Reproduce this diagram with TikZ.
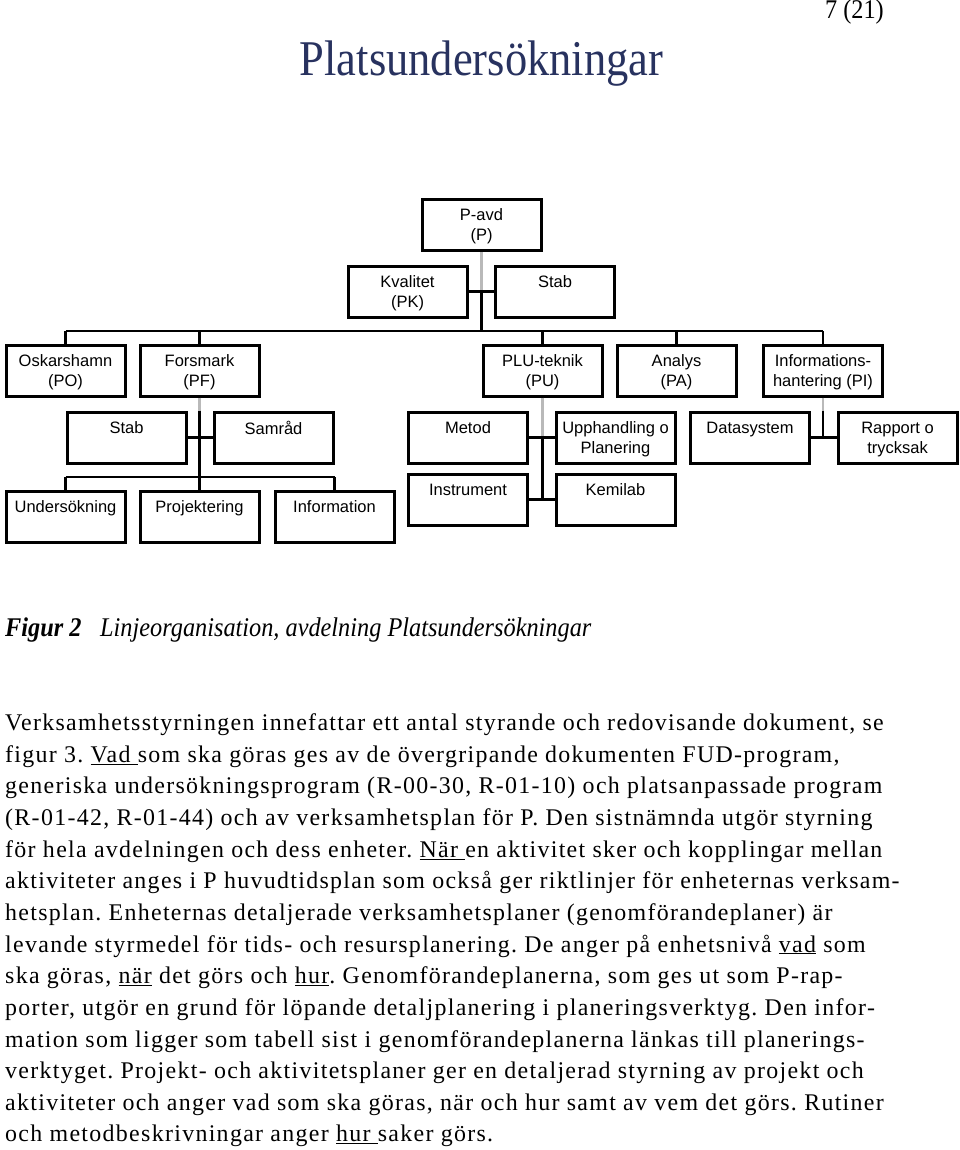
\documentclass[tikz,border=0pt]{standalone}
\usepackage{fontspec}
\setmainfont{Liberation Serif}
\newfontfamily\boxfont{Liberation Sans}
\newfontfamily\bodyfont[LetterSpace=5.5]{Liberation Serif}
\newfontfamily\titlefont[FakeStretch=0.89]{Liberation Serif}
\newfontfamily\capfont[FakeStretch=0.9]{Liberation Serif}
\definecolor{titleblue}{RGB}{40,50,95}
\newcommand\lstrut{\rule{0pt}{12pt}}
\frenchspacing
\begin{document}
\begin{tikzpicture}[x=1pt,y=-1pt,
  box/.style={draw, line width=3pt, minimum width=119pt, minimum height=51pt, inner sep=0pt},
  lbl/.style={anchor=north, inner sep=0pt, align=center, yshift=-10.5pt,
    font=\boxfont\fontsize{16.5}{20}\selectfont},
  conn/.style={line width=2.6pt},
  faint/.style={line width=2.2pt, draw=gray!55},
  bodyline/.style={anchor=base west, inner sep=0pt, font=\bodyfont\fontsize{23.9}{28}\selectfont},
]
\useasboundingbox (0,0) rectangle (960,1150);

% page number and title
\node[anchor=base east, inner sep=0pt, font=\capfont\fontsize{27}{30}\selectfont] (pnum) at (884,19) {7 (21)};
\node[anchor=base, inner sep=0pt, text=titleblue, font=\titlefont\fontsize{50}{56}\selectfont] (title) at (481.5,76) {Platsundersökningar};

% org chart boxes
\node[box] (pavd) at (481.5,225) {};
\node[box] (kval) at (407.5,291.5) {};
\node[box] (stab0) at (555,291.5) {};
\node[box] (posk) at (65.5,370.5) {};
\node[box] (pf) at (199.5,370.5) {};
\node[box] (pu) at (542.5,370.5) {};
\node[box] (pa) at (676.5,370.5) {};
\node[box] (pi) at (823,370.5) {};
\node[box] (fstab) at (126.5,437.5) {};
\node[box] (samrad) at (273.5,437.5) {};
\node[box] (metod) at (468,437.5) {};
\node[box] (upph) at (615.5,437.5) {};
\node[box] (datas) at (750,437.5) {};
\node[box] (rapp) at (897.5,437.5) {};
\node[box] (und) at (65.5,517) {};
\node[box] (proj) at (199.5,517) {};
\node[box] (info) at (334.5,517) {};
\node[box] (instr) at (468,499.5) {};
\node[box] (kemi) at (615.5,499.5) {};

% labels
\node[lbl] (tpavd) at (pavd.north) {\lstrut P-avd\\(P)};
\node[lbl] (tkval) at (kval.north) {\lstrut Kvalitet\\(PK)};
\node[lbl] (tstab0) at (stab0.north) {\lstrut Stab};
\node[lbl] (tposk) at (posk.north) {\lstrut Oskarshamn\\(PO)};
\node[lbl] (tpf) at (pf.north) {\lstrut Forsmark\\(PF)};
\node[lbl] (tpu) at (pu.north) {\lstrut PLU-teknik\\(PU)};
\node[lbl] (tpa) at (pa.north) {\lstrut Analys\\(PA)};
\node[lbl] (tpi) at (pi.north) {\lstrut Informations-\\hantering (PI)};
\node[lbl] (tfstab) at (fstab.north) {\lstrut Stab};
\node[lbl] (tsamrad) at (samrad.north) {\lstrut Samråd};
\node[lbl] (tmetod) at (metod.north) {\lstrut Metod};
\node[lbl] (tupph) at (upph.north) {\lstrut Upphandling o\\Planering};
\node[lbl] (tdatas) at (datas.north) {\lstrut Datasystem};
\node[lbl] (trapp) at (rapp.north) {\lstrut Rapport o\\trycksak};
\node[lbl] (tund) at (und.north) {\lstrut Undersökning};
\node[lbl] (tproj) at (proj.north) {\lstrut Projektering};
\node[lbl] (tinfo) at (info.north) {\lstrut Information};
\node[lbl] (tinstr) at (instr.north) {\lstrut Instrument};
\node[lbl] (tkemi) at (kemi.north) {\lstrut Kemilab};

% bus coordinates
\coordinate (busA) at (481.5,331);
\coordinate (busF) at (199.5,477);

% top trunk
\draw[faint] (pavd.south) -- (pavd.south |- kval.east);
\draw[conn] (pavd.south |- kval.east) -- (busA);
\draw[conn] (kval.east) -- (kval.east -| pavd.south);
\draw[conn] (stab0.west) -- (stab0.west -| pavd.south);
\draw[conn] (posk.north |- busA) -- (pi.north |- busA);
\foreach \n in {posk,pf,pu,pa,pi}{\draw[conn] (\n.north) -- (\n.north |- busA);}

% Forsmark branch
\draw[faint] (pf.south) -- (pf.south |- fstab.north);
\draw[conn] (pf.south |- fstab.north) -- (busF);
\draw[conn] (fstab.east) -- (samrad.west);
\draw[conn] (und.north |- busF) -- (info.north |- busF);
\foreach \n in {und,proj,info}{\draw[conn] (\n.north) -- (\n.north |- busF);}

% PLU branch
\draw[faint] (pu.south) -- (pu.south |- metod.east);
\draw[conn] (pu.south |- metod.east) -- (pu.south |- instr.east);
\draw[conn] (metod.east) -- (upph.west);
\draw[conn] (instr.east) -- (kemi.west);

% Informationshantering branch
\draw[faint] (pi.south) -- (pi.south |- datas.north);
\draw[conn] (pi.south |- datas.north) -- (pi.south |- datas.east);
\draw[conn] (datas.east) -- (rapp.west);

% caption
\node[anchor=base west, inner sep=0pt, font=\capfont\fontsize{27}{30}\selectfont\bfseries\itshape] (capa) at (5,636) {Figur 2};
\node[anchor=base west, inner sep=0pt, font=\capfont\fontsize{27}{30}\selectfont\itshape] (capb) at (100,636) {Linjeorganisation, avdelning Platsundersökningar};

% body text
\node[bodyline] (l1) at (5,730.5) {Verksamhetsstyrningen innefattar ett antal styrande och redovisande dokument, se};
\node[bodyline] (l2) at (5,762.15) {figur 3. \underline{Vad }som ska göras ges av de övergripande dokumenten FUD-program,};
\node[bodyline] (l3) at (5,793.8) {generiska undersökningsprogram (R-00-30, R-01-10) och platsanpassade program};
\node[bodyline] (l4) at (5,825.45) {(R-01-42, R-01-44) och av verksamhetsplan för P. Den sistnämnda utgör styrning};
\node[bodyline] (l5) at (5,857.1) {för hela avdelningen och dess enheter. \underline{När }en aktivitet sker och kopplingar mellan};
\node[bodyline] (l6) at (5,888.75) {aktiviteter anges i P huvudtidsplan som också ger riktlinjer för enheternas verksam-};
\node[bodyline] (l7) at (5,920.4) {hetsplan. Enheternas detaljerade verksamhetsplaner (genomförandeplaner) är};
\node[bodyline] (l8) at (5,952.05) {levande styrmedel för tids- och resursplanering. De anger på enhetsnivå \underline{vad} som};
\node[bodyline] (l9) at (5,983.7) {ska göras, \underline{när} det görs och \underline{hur}. Genomförandeplanerna, som ges ut som P-rap-};
\node[bodyline] (l10) at (5,1015.35) {porter, utgör en grund för löpande detaljplanering i planeringsverktyg. Den infor-};
\node[bodyline] (l11) at (5,1047) {mation som ligger som tabell sist i genomförandeplanerna länkas till planerings-};
\node[bodyline] (l12) at (5,1078.65) {verktyget. Projekt- och aktivitetsplaner ger en detaljerad styrning av projekt och};
\node[bodyline] (l13) at (5,1110.3) {aktiviteter och anger vad som ska göras, när och hur samt av vem det görs. Rutiner};
\node[bodyline] (l14) at (5,1141.95) {och metodbeskrivningar anger \underline{hur }saker görs.};
\end{tikzpicture}
\end{document}
